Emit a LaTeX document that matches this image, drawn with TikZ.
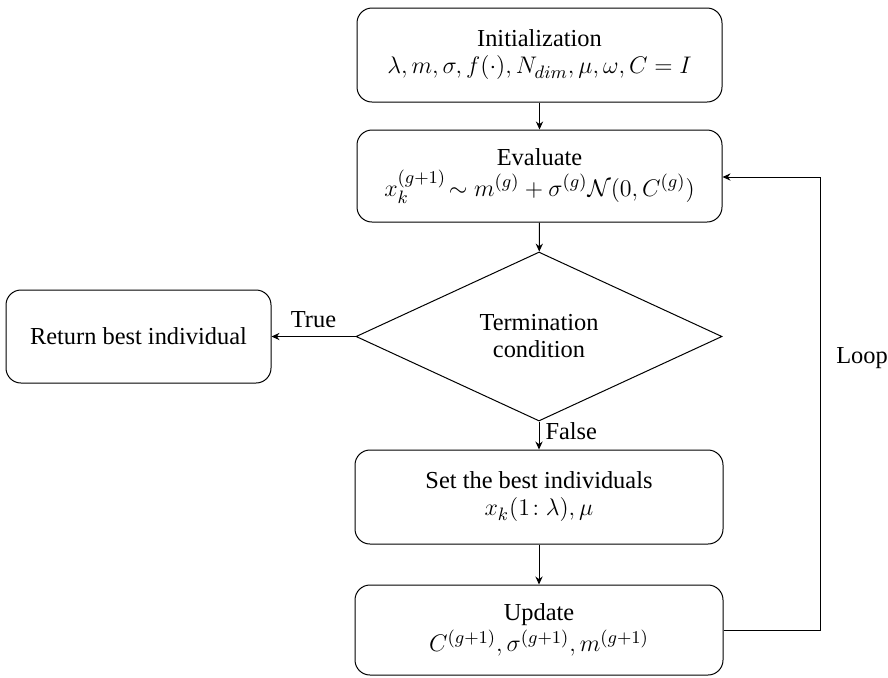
\documentclass[tikz,border=0pt]{standalone}
\usepackage{fontspec}
\setmainfont{Liberation Serif}
\usetikzlibrary{shapes.geometric,arrows.meta}
\begin{document}
\begin{tikzpicture}[x=0.5pt,y=-0.5pt,
  every node/.style={font=\fontsize{12.2}{13.5}\selectfont},
  stepbox/.style={draw, line width=0.5pt, rounded corners=7.5pt, align=center, inner sep=0pt},
  decision/.style={draw, line width=0.5pt, diamond, align=center, inner sep=0pt},
  flow/.style={draw, line width=0.5pt, -{Stealth[length=4pt,width=3.6pt]}},
  lbl/.style={inner sep=1pt}
]
\useasboundingbox (0,0) rectangle (888,677);

\node[stepbox, minimum width=182.5pt, minimum height=47pt] (init) at (539.5,55)
  {Initialization\\ $\lambda, m, \sigma, f(\cdot), N_{dim}, \mu, \omega, C = I$};
\node[stepbox, minimum width=182.5pt, minimum height=46pt] (eval) at (539.5,176)
  {Evaluate\\[2pt] $x_k^{(g+1)}\!\sim m^{(g)} + \sigma^{(g)}\mathcal{N}\big(0, C^{(g)}\big)$};
\node[decision, minimum width=183pt, minimum height=84.5pt] (term) at (539,336.5)
  {Termination\\ condition};
\node[stepbox, minimum width=132.5pt, minimum height=46.5pt] (ret) at (138.5,336.5)
  {Return best individual};
\node[stepbox, minimum width=184pt, minimum height=47pt] (best) at (539,497)
  {Set the best individuals\\ $x_k(1\!:\lambda), \mu$};
\node[stepbox, minimum width=184pt, minimum height=45pt] (upd) at (539,630)
  {Update\\[1pt] $C^{(g+1)}, \sigma^{(g+1)}, m^{(g+1)}$};

\coordinate (loopbot) at (820,630);
\coordinate (looptop) at (820,177);

\draw[flow] (init) -- (eval);
\draw[flow] (eval) -- (term);
\draw[flow] (term.west) -- node[lbl, above=3pt] (truelbl) {True} (ret.east);
\draw[flow] (term.south) -- node[lbl, pos=0.35, right=2pt] (falselbl) {False} (best.north);
\draw[flow] (best) -- (upd);
\draw[flow] (upd.east) -- (loopbot) -- (looptop) -- (eval.east |- looptop);

\node[lbl] (looplbl) at (862,358) {Loop};
\end{tikzpicture}
\end{document}
